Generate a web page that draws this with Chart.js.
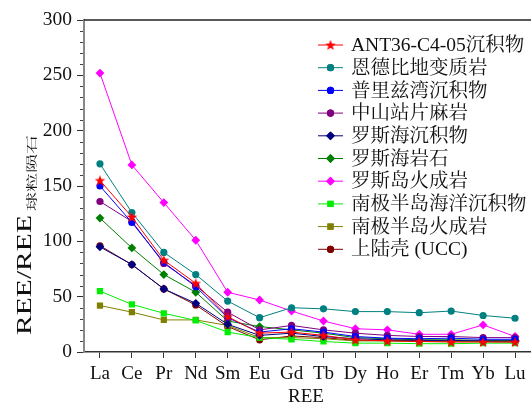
<!DOCTYPE html>
<html>
<head>
<meta charset="utf-8">
<script src="https://cdn.jsdelivr.net/npm/chart.js@4.4.0/dist/chart.umd.min.js"></script>
<style>
  html, body { margin: 0; padding: 0; background: #fff; }
</style>
</head>
<body>
<canvas id="reeChart" width="531" height="405"></canvas>
<script>
const elements = ['La', 'Ce', 'Pr', 'Nd', 'Sm', 'Eu', 'Gd', 'Tb', 'Dy', 'Ho', 'Er', 'Tm', 'Yb', 'Lu'];

const seriesNames = [
    'ANT36-C4-05沉积物', '恩德比地变质岩', '普里兹湾沉积物', '中山站片麻岩', '罗斯海沉积物',
    '罗斯海岩石', '罗斯岛火成岩', '南极半岛海洋沉积物', '南极半岛火成岩', '上陆壳 (UCC)'
];

// chondrite-normalised values
const ant36 = [155, 122, 83, 62, 32, 17, 18, 15, 11, 10, 9.5, 9, 9, 9];
const enderby = [170, 126, 90, 70, 46, 31, 40, 39, 36.5, 36.5, 35.5, 37, 33, 30.5];
const prydz = [150, 117, 81, 59, 31, 18, 21, 18, 14, 12.5, 12, 12.5, 11.5, 11.5];
const zhongshan = [136, 118, 80, 60, 36, 20, 24, 20, 17, 15, 14, 14, 13, 13];
const rossSed = [95, 79, 57, 44, 25, 15, 17, 14, 12, 11, 10.5, 10.5, 10, 10];
const rossRock = [121, 94, 70, 54, 28, 23, 20, 17, 13, 12, 11, 11, 10.5, 10.5];
const rossIsland = [252, 169, 135, 101, 54, 47, 37, 28, 21, 20, 16, 16, 24.5, 14];
const peninsulaSed = [55, 43, 35, 28.5, 18, 13, 11.5, 9.5, 8, 8, 7.5, 7.5, 8, 8];
const peninsulaIgn = [42, 36, 29, 29, 24, 13, 13, 12, 10, 10, 9.5, 9.5, 9.5, 9.5];
const ucc = [96, 79, 57, 42.5, 23, 11, 14.5, 13, 10.5, 10.5, 10, 9.5, 9.5, 9];

const yTicks = [0, 50, 100, 150, 200, 250, 300];

const SERIF = "'Liberation Serif', 'Times New Roman', 'Noto Serif CJK SC', 'Noto Sans CJK SC', serif";

// five-pointed star marker for the first series
function makeStar(color) {
    const c = document.createElement('canvas');
    c.width = 12; c.height = 12;
    const g = c.getContext('2d');
    g.fillStyle = color;
    g.beginPath();
    for (let i = 0; i < 10; i++) {
        const r = i % 2 === 0 ? 5.6 : 2.3;
        const a = -Math.PI / 2 + i * Math.PI / 5;
        const px = 6 + r * Math.cos(a), py = 6.4 + r * Math.sin(a);
        if (i === 0) g.moveTo(px, py); else g.lineTo(px, py);
    }
    g.closePath();
    g.fill();
    return c;
}

const styles = [
    { color: '#ff0000', point: makeStar('#ff0000'), radius: 5 },
    { color: '#008080', point: 'circle', radius: 3.6 },
    { color: '#0000ff', point: 'circle', radius: 3.6 },
    { color: '#800080', point: 'circle', radius: 3.6 },
    { color: '#000080', point: 'rectRot', radius: 4.4 },
    { color: '#008000', point: 'rectRot', radius: 4.4 },
    { color: '#ff00ff', point: 'rectRot', radius: 4.4 },
    { color: '#00ee00', point: 'rect', radius: 4.4 },
    { color: '#808000', point: 'rect', radius: 4.4 },
    { color: '#800000', point: 'circle', radius: 3.6 }
];

const allSeries = [ant36, enderby, prydz, zhongshan, rossSed, rossRock, rossIsland, peninsulaSed, peninsulaIgn, ucc];

const datasets = allSeries.map((vals, i) => ({
    label: seriesNames[i],
    data: vals,
    borderColor: styles[i].color,
    backgroundColor: styles[i].color,
    borderWidth: 1,
    pointStyle: styles[i].point,
    pointRadius: styles[i].radius,
    pointBorderWidth: 0,
    pointHoverRadius: styles[i].radius,
    tension: 0
}));

const decorPlugin = {
    id: 'decor',
    afterLayout(chart) {
        // stretch the plot to the right edge of the canvas, like the original
        const x = chart.scales.x;
        const right = chart.width;
        if (chart.chartArea.right < right) {
            chart.chartArea.right = right;
            chart.chartArea.width = right - chart.chartArea.left;
            x.right = right;
            x.width = right - x.left;
            x.configure();
        }
    },
    afterDraw(chart) {
        const { ctx, chartArea: a, scales } = chart;
        const y = scales.y;
        ctx.save();

        // top frame line
        ctx.strokeStyle = '#222';
        ctx.lineWidth = 1.5;
        ctx.beginPath();
        ctx.moveTo(a.left, a.top);
        ctx.lineTo(a.right, a.top);
        ctx.stroke();

        // minor y ticks every 10
        ctx.strokeStyle = '#444';
        ctx.lineWidth = 1;
        ctx.beginPath();
        for (let v = 10; v < 300; v += 10) {
            if (v % 50 === 0) continue;
            const py = Math.round(y.getPixelForValue(v)) + 0.5;
            ctx.moveTo(a.left - 4, py);
            ctx.lineTo(a.left - 1, py);
        }
        ctx.stroke();

        // y title with subscript
        ctx.fillStyle = '#111';
        ctx.textBaseline = 'alphabetic';
        ctx.textAlign = 'left';
        const mainText = 'REE/REE';
        const subText = '球粒陨石';
        ctx.save();
        ctx.translate(31, 335);
        ctx.rotate(-Math.PI / 2);
        ctx.font = '22px ' + SERIF;
        let w = ctx.measureText(mainText).width;
        ctx.save();
        ctx.scale(120 / w, 1);
        ctx.fillText(mainText, 0, 0);
        ctx.restore();
        ctx.font = '11px ' + SERIF;
        w = ctx.measureText(subText).width;
        ctx.save();
        ctx.translate(124, 5);
        ctx.scale(76 / w, 1);
        ctx.fillText(subText, 0, 0);
        ctx.restore();
        ctx.restore();

        // x title
        ctx.font = '19px ' + SERIF;
        ctx.textAlign = 'center';
        ctx.textBaseline = 'middle';
        ctx.fillText('REE', 306, 397);

        // legend
        const lx0 = 318, lx1 = 343, mx = 330.5, tx = 351;
        ctx.font = '19.5px ' + SERIF;
        ctx.textAlign = 'left';
        chart.data.datasets.forEach((ds, i) => {
            const ly = 45 + i * 22.7;
            ctx.strokeStyle = ds.borderColor;
            ctx.lineWidth = 1;
            ctx.beginPath();
            ctx.moveTo(lx0, ly);
            ctx.lineTo(lx1, ly);
            ctx.stroke();
            ctx.fillStyle = ds.backgroundColor;
            Chart.helpers.drawPoint(ctx, {
                pointStyle: ds.pointStyle,
                radius: ds.pointRadius,
                rotation: 0,
                borderWidth: 0
            }, mx, ly);
            ctx.fill();
            ctx.fillStyle = '#111';
            ctx.fillText(ds.label, tx, ly + 1);
        });

        ctx.restore();
    }
};

new Chart(document.getElementById('reeChart'), {
    type: 'line',
    data: { labels: elements, datasets: datasets },
    options: {
        responsive: false,
        animation: false,
        layout: { padding: { top: 20, right: 0, bottom: 0, left: 0 } },
        plugins: {
            legend: { display: false },
            tooltip: { enabled: false }
        },
        scales: {
            x: {
                offset: true,
                afterFit: s => { s.height = 53; },
                grid: { drawOnChartArea: false, tickLength: 6, tickColor: '#333', offset: false },
                border: { color: '#333', width: 1.5 },
                ticks: {
                    color: '#111', padding: 5, autoSkip: false, maxRotation: 0, minRotation: 0,
                    font: { family: SERIF, size: 19 }
                }
            },
            y: {
                min: 0,
                max: 300,
                afterFit: s => { s.width = 84; },
                afterBuildTicks: s => { s.ticks = yTicks.map(v => ({ value: v })); },
                grid: { drawOnChartArea: false, tickLength: 7, tickColor: '#333' },
                border: { color: '#888', width: 2 },
                ticks: { color: '#111', padding: 5, font: { family: SERIF, size: 19.5 } }
            }
        }
    },
    plugins: [decorPlugin]
});
</script>
</body>
</html>
